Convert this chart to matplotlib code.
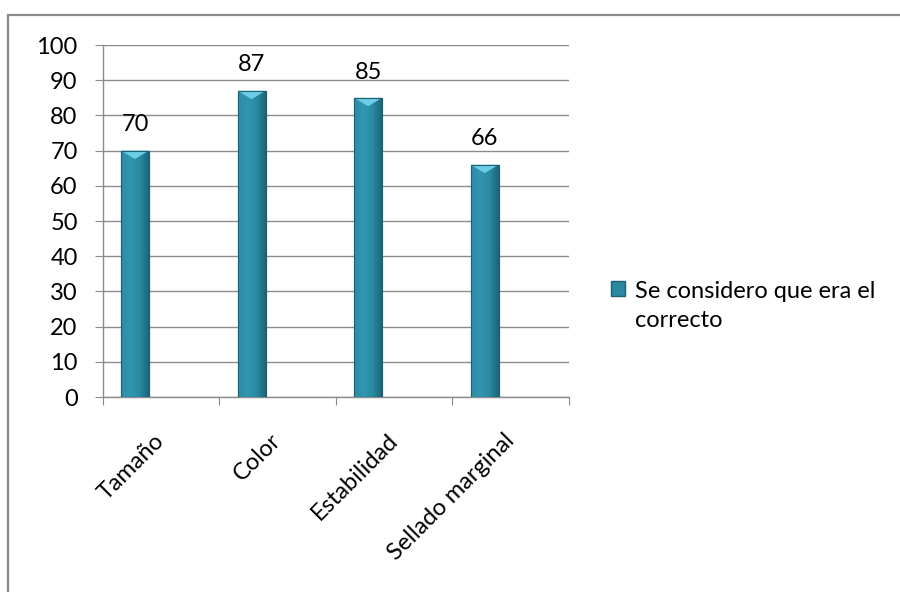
import matplotlib
matplotlib.use("Agg")
import matplotlib.pyplot as plt
import numpy as np
from matplotlib.patches import Rectangle, Polygon
from matplotlib.colors import LinearSegmentedColormap

categories = ["Tamaño", "Color", "Estabilidad", "Sellado marginal"]
values = [70, 87, 85, 66]
series_name = "Se considero que era el\ncorrecto"
yticks = [0, 10, 20, 30, 40, 50, 60, 70, 80, 90, 100]

plt.rcParams['font.family'] = ['Lato', 'DejaVu Sans']
FS = 17

W, H = 900, 592
fig = plt.figure(figsize=(W / 100, H / 100), dpi=100)
ax = fig.add_axes([102.7 / W, (H - 397) / H, (569 - 102.7) / W, (397 - 45) / H])

# outer chart border
fig.patches.append(Rectangle((8 / W, -0.1), 1.1, (H - 15) / H + 0.1, transform=fig.transFigure,
                             fill=False, edgecolor='#8a8a8a', lw=1.6))

x = np.arange(len(categories))
offset = -0.223
bw = 0.24
bars = ax.bar(x + offset, values, width=bw, color='#2b88a2', edgecolor='#1e6173', lw=0.8,
              zorder=3)

# gradient fill and bevel on top
cmap = LinearSegmentedColormap.from_list('g', ['#2c8ca6', '#3296b0', '#2a8aa4', '#1c6577'])
grad = np.linspace(0, 1, 64).reshape(1, -1)
for b in bars:
    x0, w, h = b.get_x(), b.get_width(), b.get_height()
    im = ax.imshow(grad, extent=[x0, x0 + w, 0, h], aspect='auto', cmap=cmap, zorder=3.5)
    im.set_clip_path(b)
    tri = Polygon([[x0, h], [x0 + w, h], [x0 + w / 2, h - 2.4]], closed=True,
                  facecolor='#6ccde6', edgecolor='none', zorder=4)
    ax.add_patch(tri)
    ax.add_patch(Rectangle((x0, 0), w, h, fill=False, edgecolor='#1e6173', lw=0.8, zorder=4.5))

for b, v in zip(bars, values):
    ax.annotate(str(v), (b.get_x() + b.get_width() / 2, v), xytext=(0, 11),
                textcoords='offset points', ha='center', va='bottom', fontsize=FS)

ax.set_xlim(-0.5, len(categories) - 0.5)
ax.set_ylim(0, 100)
ax.set_yticks(yticks)
ax.yaxis.grid(True, color='#8c8c8c', lw=1, zorder=0)
ax.set_axisbelow(True)
ax.set_xticks(np.arange(-0.5, len(categories), 1.0))
ax.set_xticklabels([])
ax.set_xticks(x, minor=True)
ax.set_xticklabels(categories, minor=True, rotation=45, ha='right', va='center',
                   rotation_mode='anchor', fontsize=FS)
ax.tick_params(axis='x', which='minor', length=0, pad=29)
ax.tick_params(axis='x', which='major', length=6, color='#8c8c8c', direction='out')
ax.tick_params(axis='y', length=6, color='#8c8c8c', direction='out', pad=12, labelsize=FS)
for s in ['top', 'right']:
    ax.spines[s].set_visible(False)
for s in ['left', 'bottom']:
    ax.spines[s].set_color('#8c8c8c')
    ax.spines[s].set_linewidth(1)

handle = Rectangle((0, 0), 1, 1, facecolor='#2b88a2', edgecolor='#1e6173')
leg = fig.legend([handle], [series_name], loc='upper left', bbox_to_anchor=(590 / W, 1 - 260 / H),
                 frameon=False, fontsize=FS, handlelength=0.6, handleheight=0.6,
                 handletextpad=0.4, labelspacing=0.3)
for t in leg.get_texts():
    t.set_linespacing(1.45)
try:
    for col in leg._legend_handle_box.get_children():
        for hp in col.get_children():
            hp.align = 'top'
except Exception:
    pass

fig.savefig('out.png', dpi=100)
